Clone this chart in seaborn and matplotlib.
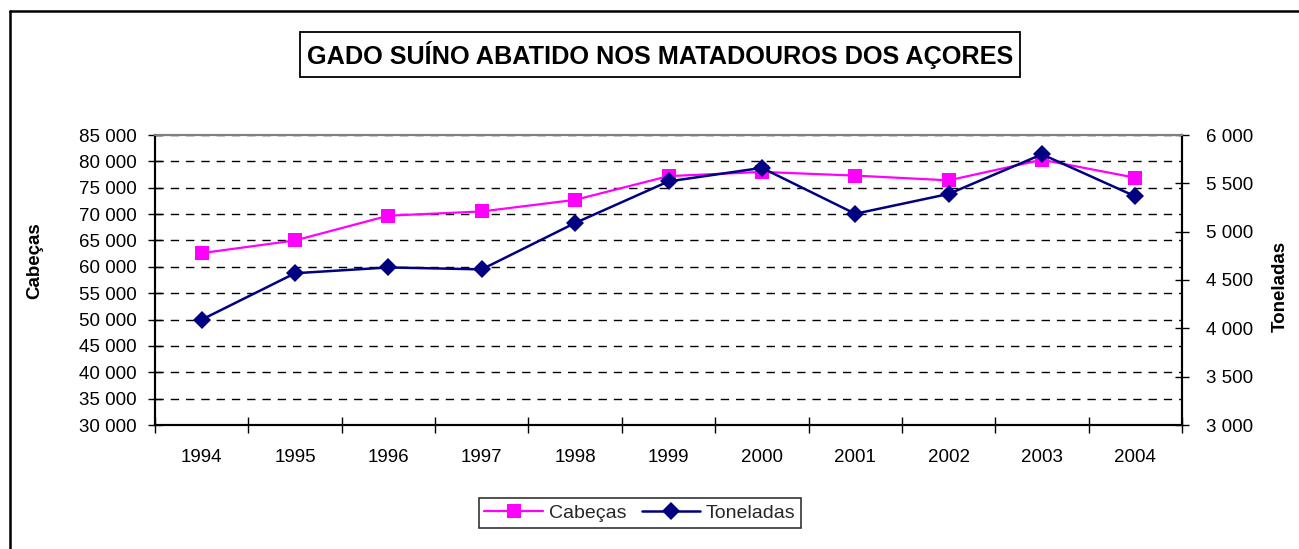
import matplotlib
matplotlib.use('Agg')
import matplotlib.pyplot as plt
import seaborn as sns
import numpy as np
import pandas as pd
from matplotlib.ticker import FuncFormatter, MultipleLocator
from matplotlib.lines import Line2D
from matplotlib.patches import Rectangle

years = ['1994', '1995', '1996', '1997', '1998', '1999', '2000', '2001', '2002', '2003', '2004']
cabecas = [62600, 65000, 69700, 70500, 72700, 77200, 78000, 77300, 76400, 80300, 76900]
toneladas = [4090, 4570, 4630, 4610, 5090, 5520, 5660, 5185, 5390, 5800, 5365]

title = 'GADO SUÍNO ABATIDO NOS MATADOUROS DOS AÇORES'
left_label = 'Cabeças'
right_label = 'Toneladas'

sns.set_theme(style='white')
plt.rcParams['font.family'] = ['Liberation Sans', 'DejaVu Sans']

W, H = 1299, 549
fig = plt.figure(figsize=(W / 100, H / 100), dpi=100)
fig.patch.set_facecolor('white')

def fx(px):
    return px / W

def fy(py):
    return 1 - py / H

ax = fig.add_axes([fx(155), fy(425), fx(1182) - fx(155), fy(135) - fy(425)])
ax2 = ax.twinx()

pos = np.arange(len(years))
df = pd.DataFrame({'pos': pos, 'Cabeças': cabecas, 'Toneladas': toneladas})

sns.lineplot(data=df, x='pos', y='Cabeças', ax=ax, color='#FF00FF', marker='s',
             markersize=10, markeredgewidth=0, linewidth=1.6, label='Cabeças', legend=False)
sns.lineplot(data=df, x='pos', y='Toneladas', ax=ax2, color='#000080', marker='D',
             markersize=9, markeredgewidth=0, linewidth=1.8, label='Toneladas', legend=False)

ax.set_xlim(-0.5, len(years) - 0.5)
ax.set_ylim(30000, 85000)
ax2.set_ylim(3000, 6000)

fmt = FuncFormatter(lambda v, p: f'{v:,.0f}'.replace(',', ' '))
ax.yaxis.set_major_locator(MultipleLocator(5000))
ax.yaxis.set_major_formatter(fmt)
ax2.yaxis.set_major_locator(MultipleLocator(500))
ax2.yaxis.set_major_formatter(fmt)

ax.set_xticks(pos)
ax.set_xticklabels(years)
ax.set_xticks(np.arange(-0.5, len(years), 1), minor=True)
ax.tick_params(axis='x', which='major', length=0, pad=17, labelsize=13.5, colors='black')
ax.tick_params(axis='x', which='minor', length=11, direction='inout', width=1, color='black', bottom=True)
ax.tick_params(axis='y', which='major', length=10, direction='inout', width=1, pad=8,
               labelsize=13.5, colors='black', left=True)
ax2.tick_params(axis='y', which='major', length=10, direction='inout', width=1, pad=12,
                labelsize=13.5, colors='black', right=True)

ax.set_xlabel('')
ax.set_ylabel('')
ax2.set_ylabel('')

ax.grid(axis='y', color='black', linestyle=(0, (6, 5)), linewidth=1)
ax.grid(axis='x', visible=False)
ax2.grid(False)

for a in (ax, ax2):
    a.spines['left'].set_color('black')
    a.spines['bottom'].set_color('black')
    a.spines['right'].set_color('black')
    a.spines['top'].set_color('#808080')
    for s in a.spines.values():
        s.set_linewidth(1.5)
        s.set_visible(True)

# title box
fig.add_artist(Rectangle((fx(300), fy(77)), fx(1020) - fx(300), fy(32) - fy(77),
                         transform=fig.transFigure, fill=True, facecolor='white',
                         edgecolor='black', linewidth=1.3))
fig.text(fx(660), fy(55), title, ha='center', va='center', fontsize=18.2,
         fontweight='bold', color='black')

# axis labels
fig.text(fx(35), fy(261), left_label, rotation=90, ha='center', va='center',
         fontsize=13.5, fontweight='bold', color='black')
fig.text(fx(1280), fy(286), right_label, rotation=90, ha='center', va='center',
         fontsize=13.5, fontweight='bold', color='black')

# legend
h1, l1 = ax.get_legend_handles_labels()
h2, l2 = ax2.get_legend_handles_labels()
leg = fig.legend(h1 + h2, l1 + l2, loc='center', bbox_to_anchor=(fx(640), fy(513)),
                 ncol=2, frameon=True, fancybox=False, edgecolor='black', fontsize=14,
                 handlelength=3.0, columnspacing=0.8, handletextpad=0.3, borderpad=0.3,
                 borderaxespad=0, markerscale=1.0)
leg.get_frame().set_linewidth(1.2)

# outer chart border
fig.add_artist(Line2D([fx(10), fx(10)], [0, fy(11)], transform=fig.transFigure,
                      color='black', linewidth=1.8))
fig.add_artist(Line2D([fx(10), 1], [fy(11), fy(11)], transform=fig.transFigure,
                      color='black', linewidth=1.8))

fig.savefig('out.png', dpi=100)
